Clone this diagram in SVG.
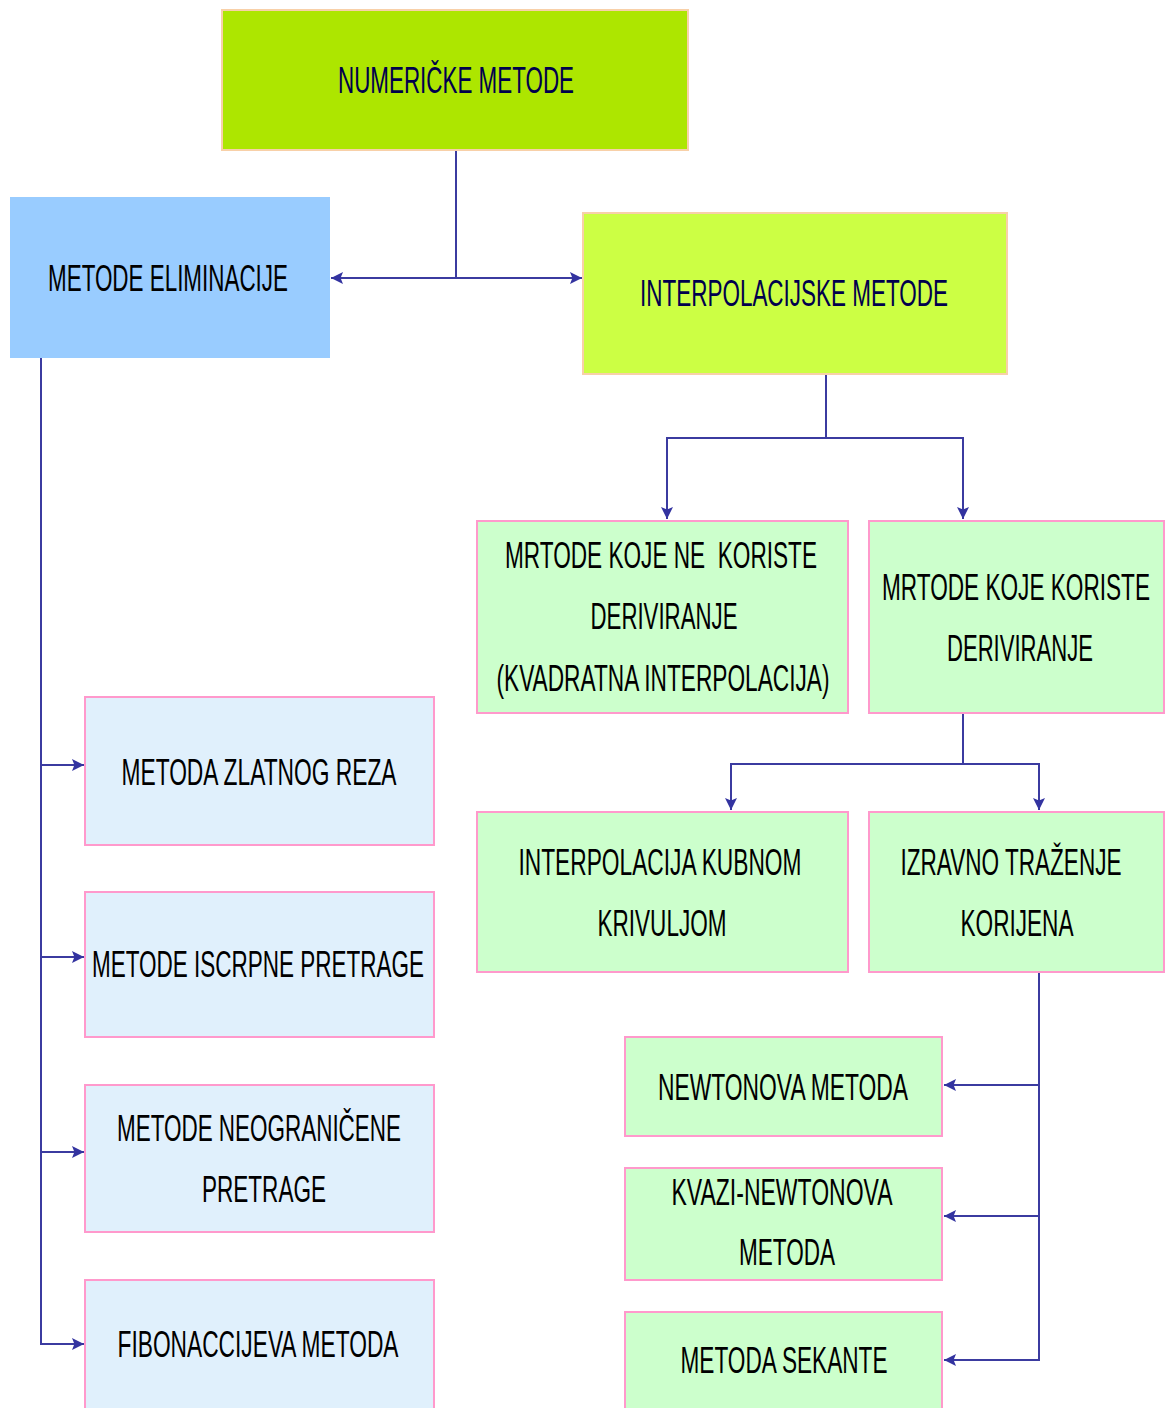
<svg xmlns="http://www.w3.org/2000/svg" width="1165" height="1408" viewBox="0 0 1165 1408">
<style>
.t{font-family:"Liberation Sans",Arial,sans-serif;font-size:36px;text-anchor:middle;fill:#000}
.nv{fill:#00004d}
.c{fill:none;stroke:#3b3ba0;stroke-width:2}
.g{fill:#ccffcc;stroke:#ff99cc;stroke-width:2}
.b{fill:#e0f0fc;stroke:#ff99cc;stroke-width:2}
</style>
<defs>
<marker id="a" viewBox="0 0 10 10" refX="10" refY="5" markerWidth="12" markerHeight="12" markerUnits="userSpaceOnUse" orient="auto">
<path d="M0,0 L10,5 L0,10 L2,5 z" fill="#3333a0"/>
</marker>
</defs>
<rect width="1165" height="1408" fill="#fff"/>
<g id="connectors">
<path class="c" d="M456,150 V278"/>
<path class="c" d="M456,278 H331" marker-end="url(#a)"/>
<path class="c" d="M456,278 H582" marker-end="url(#a)"/>
<path class="c" d="M826,374 V438 H667 V519" marker-end="url(#a)"/>
<path class="c" d="M826,438 H963 V519" marker-end="url(#a)"/>
<path class="c" d="M963,713 V764 H731 V810" marker-end="url(#a)"/>
<path class="c" d="M963,764 H1039 V810" marker-end="url(#a)"/>
<path class="c" d="M1039,972 V1360 H944" marker-end="url(#a)"/>
<path class="c" d="M1039,1085 H944" marker-end="url(#a)"/>
<path class="c" d="M1039,1216 H944" marker-end="url(#a)"/>
<path class="c" d="M41,358 V1344 H84" marker-end="url(#a)"/>
<path class="c" d="M41,765 H84" marker-end="url(#a)"/>
<path class="c" d="M41,957 H84" marker-end="url(#a)"/>
<path class="c" d="M41,1152 H84" marker-end="url(#a)"/>
</g>
<g id="n-numericke">
<rect x="222" y="10" width="466" height="140" fill="#ade600" stroke="#f8d0a8" stroke-width="2"/>
<text class="t nv" x="456" y="93" textLength="236" lengthAdjust="spacingAndGlyphs">NUMERIČKE METODE</text>
</g>
<g id="n-eliminacije">
<rect x="10" y="197" width="320" height="161" fill="#99ccff"/>
<text class="t" x="168" y="291" textLength="240" lengthAdjust="spacingAndGlyphs">METODE ELIMINACIJE</text>
</g>
<g id="n-interpolacijske">
<rect x="583" y="213" width="424" height="161" fill="#ccff44" stroke="#f8d0a8" stroke-width="2"/>
<text class="t nv" x="794" y="306" textLength="308" lengthAdjust="spacingAndGlyphs">INTERPOLACIJSKE METODE</text>
</g>
<g id="n-ne-koriste">
<rect class="g" x="477" y="521" width="371" height="192"/>
<text class="t" x="661" y="568" textLength="312" lengthAdjust="spacingAndGlyphs" xml:space="preserve">MRTODE KOJE NE  KORISTE</text>
<text class="t" x="664" y="629" textLength="147" lengthAdjust="spacingAndGlyphs">DERIVIRANJE</text>
<text class="t" x="663" y="691" textLength="333" lengthAdjust="spacingAndGlyphs">(KVADRATNA INTERPOLACIJA)</text>
</g>
<g id="n-koriste">
<rect class="g" x="869" y="521" width="295" height="192"/>
<text class="t" x="1016" y="600" textLength="268" lengthAdjust="spacingAndGlyphs">MRTODE KOJE KORISTE</text>
<text class="t" x="1020" y="661" textLength="146" lengthAdjust="spacingAndGlyphs">DERIVIRANJE</text>
</g>
<g id="n-kubnom">
<rect class="g" x="477" y="812" width="371" height="160"/>
<text class="t" x="660" y="875" textLength="283" lengthAdjust="spacingAndGlyphs">INTERPOLACIJA KUBNOM</text>
<text class="t" x="662" y="936" textLength="129" lengthAdjust="spacingAndGlyphs">KRIVULJOM</text>
</g>
<g id="n-izravno">
<rect class="g" x="869" y="812" width="295" height="160"/>
<text class="t" x="1011" y="875" textLength="221" lengthAdjust="spacingAndGlyphs">IZRAVNO TRAŽENJE</text>
<text class="t" x="1017" y="936" textLength="113" lengthAdjust="spacingAndGlyphs">KORIJENA</text>
</g>
<g id="n-newton">
<rect class="g" x="625" y="1037" width="317" height="99"/>
<text class="t" x="783" y="1100" textLength="250" lengthAdjust="spacingAndGlyphs">NEWTONOVA METODA</text>
</g>
<g id="n-kvazi">
<rect class="g" x="625" y="1168" width="317" height="112"/>
<text class="t" x="782" y="1205" textLength="221" lengthAdjust="spacingAndGlyphs">KVAZI-NEWTONOVA</text>
<text class="t" x="787" y="1265" textLength="96" lengthAdjust="spacingAndGlyphs">METODA</text>
</g>
<g id="n-sekante">
<rect class="g" x="625" y="1312" width="317" height="110"/>
<text class="t" x="784" y="1373" textLength="207" lengthAdjust="spacingAndGlyphs">METODA SEKANTE</text>
</g>
<g id="n-zlatni">
<rect class="b" x="85" y="697" width="349" height="148"/>
<text class="t" x="259" y="785" textLength="275" lengthAdjust="spacingAndGlyphs">METODA ZLATNOG REZA</text>
</g>
<g id="n-iscrpne">
<rect class="b" x="85" y="892" width="349" height="145"/>
<text class="t" x="258" y="977" textLength="332" lengthAdjust="spacingAndGlyphs">METODE ISCRPNE PRETRAGE</text>
</g>
<g id="n-neogranicene">
<rect class="b" x="85" y="1085" width="349" height="147"/>
<text class="t" x="259" y="1141" textLength="284" lengthAdjust="spacingAndGlyphs">METODE NEOGRANIČENE</text>
<text class="t" x="264" y="1202" textLength="124" lengthAdjust="spacingAndGlyphs">PRETRAGE</text>
</g>
<g id="n-fibonacci">
<rect class="b" x="85" y="1280" width="349" height="140"/>
<text class="t" x="258" y="1357" textLength="281" lengthAdjust="spacingAndGlyphs">FIBONACCIJEVA METODA</text>
</g>
</svg>
